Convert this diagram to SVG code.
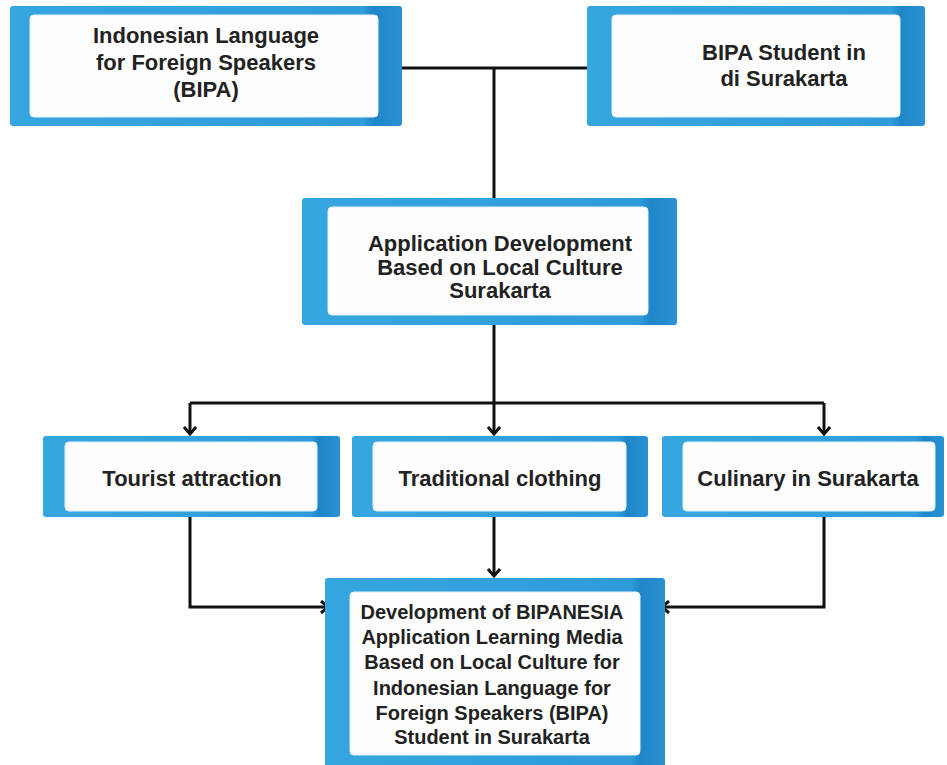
<svg xmlns="http://www.w3.org/2000/svg" width="947" height="765" viewBox="0 0 947 765">
<defs>
<linearGradient id="blue" x1="0" y1="0" x2="1" y2="0">
<stop offset="0" stop-color="#36a6e0"/>
<stop offset="0.9" stop-color="#2f9cd9"/>
<stop offset="0.93" stop-color="#1f86c8"/>
<stop offset="1" stop-color="#2a92d2"/>
</linearGradient>
<marker id="arr" markerWidth="14" markerHeight="14" refX="11" refY="7" orient="auto" markerUnits="userSpaceOnUse">
<path d="M4,1 L11,7 L4,13" fill="none" stroke="#111" stroke-width="3"/>
</marker>
</defs>
<style>
.outer{fill:url(#blue);}
.inner{fill:#fefefe;stroke:#e3eef6;stroke-width:1;}
.t{font-family:"Liberation Sans",Arial,sans-serif;font-weight:bold;fill:#222;text-anchor:middle;}
.c{fill:none;stroke:#111;stroke-width:3;}
</style>
<rect width="947" height="765" fill="#fff"/>
<g id="connectors">
<path class="c" d="M402,68 H587"/>
<path class="c" d="M494,68 V198"/>
<path class="c" d="M494,325 V403"/>
<path class="c" d="M190,403 H824"/>
<path class="c" d="M190,403 V434" marker-end="url(#arr)"/>
<path class="c" d="M494,403 V434" marker-end="url(#arr)"/>
<path class="c" d="M824,403 V434" marker-end="url(#arr)"/>
<path class="c" d="M190,517 V607 H328" marker-end="url(#arr)"/>
<path class="c" d="M494,517 V576" marker-end="url(#arr)"/>
<path class="c" d="M824,517 V607 H662" marker-end="url(#arr)"/>
</g>
<g id="n1">
<rect class="outer" x="10" y="6" width="392" height="120" rx="3"/>
<rect class="inner" x="30" y="15" width="348" height="102" rx="4"/>
<text class="t" font-size="22"><tspan x="206" y="43">Indonesian Language</tspan><tspan x="206" y="70">for Foreign Speakers</tspan><tspan x="206" y="97">(BIPA)</tspan></text>
</g>
<g id="n2">
<rect class="outer" x="587" y="6" width="338" height="120" rx="3"/>
<rect class="inner" x="612" y="15" width="288" height="102" rx="4"/>
<text class="t" font-size="22"><tspan x="784" y="60">BIPA Student in</tspan><tspan x="784" y="86">di Surakarta</tspan></text>
</g>
<g id="n3">
<rect class="outer" x="302" y="198" width="375" height="127" rx="3"/>
<rect class="inner" x="328" y="207" width="320" height="108" rx="4"/>
<text class="t" font-size="22"><tspan x="500" y="251">Application Development</tspan><tspan x="500" y="275">Based on Local Culture</tspan><tspan x="500" y="298">Surakarta</tspan></text>
</g>
<g id="n4">
<rect class="outer" x="43" y="436" width="297" height="81" rx="3"/>
<rect class="inner" x="65" y="442" width="252" height="69" rx="4"/>
<text class="t" font-size="22" x="192" y="486">Tourist attraction</text>
</g>
<g id="n5">
<rect class="outer" x="352" y="436" width="296" height="81" rx="3"/>
<rect class="inner" x="373" y="442" width="253" height="69" rx="4"/>
<text class="t" font-size="22" x="500" y="486">Traditional clothing</text>
</g>
<g id="n6">
<rect class="outer" x="662" y="436" width="282" height="81" rx="3"/>
<rect class="inner" x="683" y="442" width="252" height="69" rx="4"/>
<text class="t" font-size="22" x="808" y="486">Culinary in Surakarta</text>
</g>
<g id="n7">
<rect class="outer" x="325" y="578" width="340" height="195" rx="3"/>
<rect class="inner" x="350" y="592" width="290" height="163" rx="4"/>
<text class="t" font-size="20"><tspan x="492" y="619">Development of BIPANESIA</tspan><tspan x="492" y="644">Application Learning Media</tspan><tspan x="492" y="669">Based on Local Culture for</tspan><tspan x="492" y="695">Indonesian Language for</tspan><tspan x="492" y="720">Foreign Speakers (BIPA)</tspan><tspan x="492" y="744">Student in Surakarta</tspan></text>
</g>
</svg>
